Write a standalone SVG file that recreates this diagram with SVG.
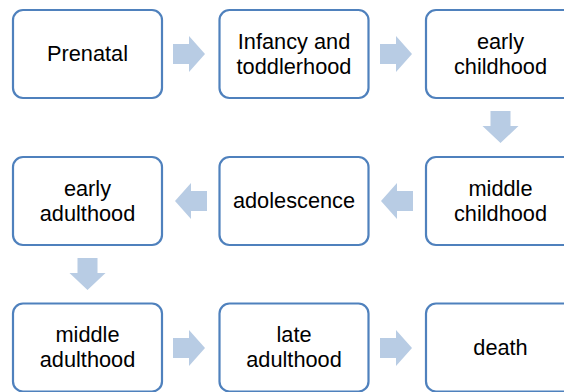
<svg xmlns="http://www.w3.org/2000/svg" width="564" height="392" viewBox="0 0 564 392">
<style>
.box{fill:#fff;stroke:#4F81BD;stroke-width:2.2}
.arr{fill:#B8CCE4;stroke:none}
text{font-family:"Liberation Sans",Arial,sans-serif;font-size:21.75px;fill:#000;text-anchor:middle}
</style>
<rect width="564" height="392" fill="#fff"/>
<g id="connectors">
<path class="arr" d="M173,44 H189 V36 L205,54 L189,72 V64 H173 Z"/>
<path class="arr" d="M380,44 H396 V36 L412,54 L396,72 V64 H380 Z"/>
<path class="arr" d="M490.5,111 V126 H482.5 L500.5,143 L518.5,126 H510.5 V111 Z"/>
<path class="arr" d="M413,191 H397 V183 L381,201 L397,219 V211 H413 Z"/>
<path class="arr" d="M207,191 H191 V183 L175,201 L191,219 V211 H207 Z"/>
<path class="arr" d="M77.5,258 V273 H69.5 L87.5,290 L105.5,273 H97.5 V258 Z"/>
<path class="arr" d="M173,338 H189 V330 L205,348 L189,366 V358 H173 Z"/>
<path class="arr" d="M380,338 H396 V330 L412,348 L396,366 V358 H380 Z"/>
</g>
<g id="prenatal"><rect class="box" x="13" y="10" width="149" height="88" rx="10"/><text x="87.5" y="61">Prenatal</text></g>
<g id="infancy"><rect class="box" x="219.5" y="10" width="149" height="88" rx="10"/><text x="294" y="48.5">Infancy and</text><text x="294" y="73.5">toddlerhood</text></g>
<g id="early-childhood"><rect class="box" x="426" y="10" width="149" height="88" rx="10"/><text x="500.5" y="48.5">early</text><text x="500.5" y="73.5">childhood</text></g>
<g id="middle-childhood"><rect class="box" x="426" y="157" width="149" height="88" rx="10"/><text x="500.5" y="195.5">middle</text><text x="500.5" y="220.5">childhood</text></g>
<g id="adolescence"><rect class="box" x="219.5" y="157" width="149" height="88" rx="10"/><text x="294" y="208">adolescence</text></g>
<g id="early-adulthood"><rect class="box" x="13" y="157" width="149" height="88" rx="10"/><text x="87.5" y="195.5">early</text><text x="87.5" y="220.5">adulthood</text></g>
<g id="middle-adulthood"><rect class="box" x="13" y="303.5" width="149" height="88" rx="10"/><text x="87.5" y="342">middle</text><text x="87.5" y="367">adulthood</text></g>
<g id="late-adulthood"><rect class="box" x="219.5" y="303.5" width="149" height="88" rx="10"/><text x="294" y="342">late</text><text x="294" y="367">adulthood</text></g>
<g id="death"><rect class="box" x="426" y="303.5" width="149" height="88" rx="10"/><text x="500.5" y="355">death</text></g>
</svg>
